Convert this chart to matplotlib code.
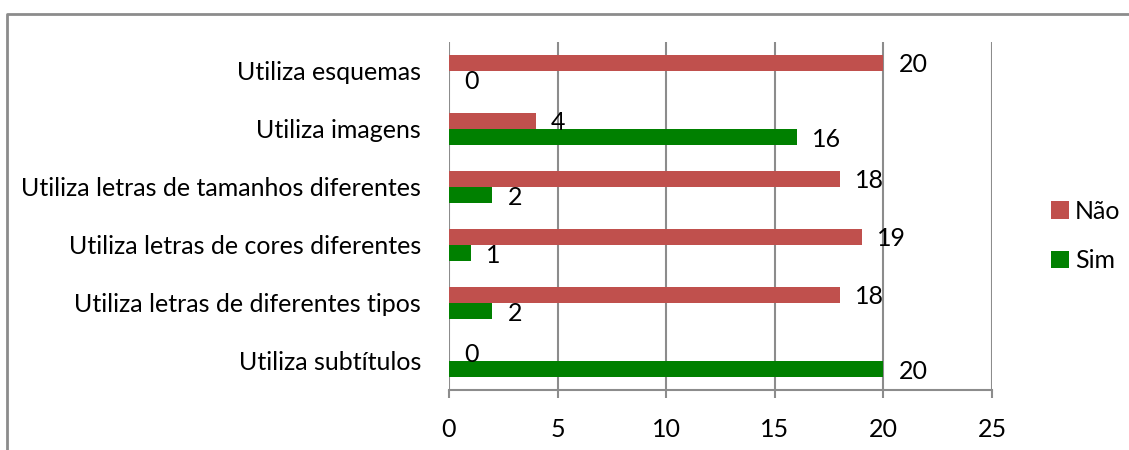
import numpy as np
import matplotlib
matplotlib.use("Agg")
import matplotlib.pyplot as plt
from matplotlib.lines import Line2D

plt.rcParams['font.family'] = ['Lato', 'DejaVu Sans']

# ── Data ────────────────────────────────────────────────────────────────────
categories = ['Utiliza esquemas', 'Utiliza imagens',
              'Utiliza letras de tamanhos diferentes',
              'Utiliza letras de cores diferentes',
              'Utiliza letras de diferentes tipos',
              'Utiliza subtítulos']
nao = [20, 4, 18, 19, 18, 0]
sim = [0, 16, 2, 1, 2, 20]
x_ticks = [0, 5, 10, 15, 20, 25]

COL_NAO  = '#C0504D'
COL_SIM  = '#008000'
GRID_COL = '#8C8C8C'
FS = 18

fig = plt.figure(figsize=(11.29, 4.5), dpi=100)
ax = fig.add_axes([449 / 1129, 60 / 450, 543 / 1129, 348 / 450])

y = np.arange(len(categories))
h = 0.28
b_nao = ax.barh(y - h / 2, nao, height=h, color=COL_NAO, label='Não', zorder=3)
b_sim = ax.barh(y + h / 2, sim, height=h, color=COL_SIM, label='Sim', zorder=3)

for lbl in ax.bar_label(b_nao, padding=11, fontsize=FS) + ax.bar_label(b_sim, padding=11, fontsize=FS):
    lbl.set_va('center_baseline')

ax.set_ylim(len(categories) - 0.5, -0.5)
ax.set_xlim(0, 25)
ax.set_xticks(x_ticks)
ax.set_yticks(y)
ax.set_yticklabels(categories, fontsize=FS)
ax.tick_params(axis='y', length=0, pad=20)
ax.tick_params(axis='x', length=6, width=1.5, color=GRID_COL, pad=14, labelsize=FS)

ax.grid(axis='x', color=GRID_COL, linewidth=1.5, zorder=0)
for side in ['top', 'right', 'left']:
    ax.spines[side].set_visible(False)
ax.spines['bottom'].set_color(GRID_COL)
ax.spines['bottom'].set_linewidth(1.5)

# legend: Não above Sim
fig.legend(handles=[b_nao, b_sim], labels=['Não', 'Sim'],
           loc='center left', bbox_to_anchor=(1041 / 1129, 1 - 236 / 450),
           frameon=False, fontsize=FS, handlelength=0.7, handleheight=0.7,
           handletextpad=0.25, labelspacing=1.05, borderaxespad=0)

# outer chart-area frame
fig.add_artist(Line2D([7 / 1129, 7 / 1129, 1.0], [0.0, 1 - 14 / 450, 1 - 14 / 450],
                      transform=fig.transFigure, color='#8C8C8C', linewidth=2))

fig.savefig('out.png', dpi=100)
